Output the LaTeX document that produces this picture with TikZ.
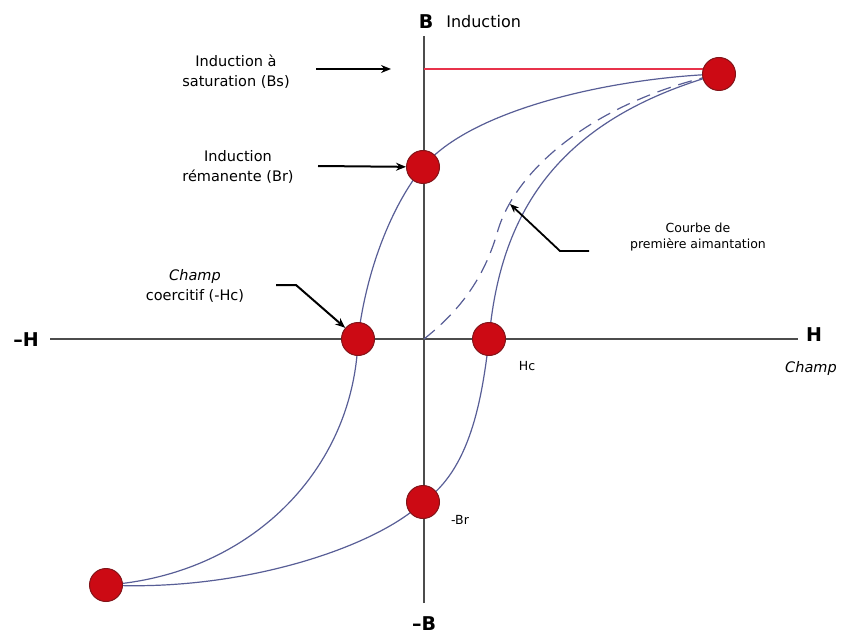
\documentclass[tikz,border=0pt]{standalone}
\usepackage{fontspec}
\setmainfont{DejaVu Sans}
\usetikzlibrary{arrows.meta,positioning,calc}
\definecolor{loopblue}{RGB}{88,94,150}
\definecolor{dotred}{RGB}{204,10,20}
\definecolor{dotrim}{RGB}{130,20,25}
\definecolor{satred}{RGB}{232,50,75}
\tikzset{
 axis/.style={draw=black!70,line width=1.3pt},
 loop/.style={draw=loopblue,line width=1.2pt},
 dot/.style={circle,fill=dotred,draw=dotrim,line width=1pt,minimum size=33pt,inner sep=0pt},
 lbl/.style={align=center,font=\fontsize{14.5}{20}\selectfont},
 small/.style={align=center,font=\fontsize{12.5}{16}\selectfont},
 axlbl/.style={font=\fontsize{19}{20}\selectfont\bfseries},
 arrow/.style={-{Stealth[length=10pt,width=8pt]},line width=2pt},
 lead/.style={-{Stealth[length=9pt,width=7pt]},line width=1.8pt}
}
\begin{document}
\begin{tikzpicture}[x=1pt,y=-1pt]
\useasboundingbox (0,0) rectangle (848,636);
% axes
\coordinate (o) at (424,339);
\coordinate (ytop) at (424,36);
\coordinate (ybot) at (424,603);
\coordinate (xl) at (50,339);
\coordinate (xr) at (798,339);
\draw[axis] (xl)--(xr);
\draw[axis] (ybot)--(ytop);
\node[axlbl] (bplus) at (426,22) {B};
\node[lbl,font=\fontsize{16}{17}\selectfont,right=6pt of bplus] {Induction};
\node[axlbl] (bminus) at (424,624) {--B};
\node[axlbl] (hminus) at (26,340) {--H};
\node[axlbl] (hplus) at (814,335) {H};
\node[lbl,font=\fontsize{14.5}{15}\selectfont\itshape] (champ) at (811,368) {Champ};
% points
\coordinate (sat) at (719,74);
\coordinate (br) at (423,167);
\coordinate (hcm) at (358,339);
\coordinate (hc) at (489,339);
\coordinate (brm) at (423,502);
\coordinate (satm) at (106,585);
\coordinate (bsax) at (424,69);
\coordinate (bsend) at (708,69);
\draw[satred,line width=1.2pt] (bsax)--(bsend);
% hysteresis loop
\draw[loop] (sat) .. controls (610,78) and (470,110) .. (br)
  .. controls (392,205) and (366,270) .. (hcm)
  .. controls (354,470) and (250,575) .. (satm);
\draw[loop] (satm) .. controls (240,592) and (375,548) .. (brm)
  .. controls (470,470) and (482,400) .. (hc)
  .. controls (500,215) and (555,120) .. (sat);
% first magnetisation
\draw[loop,dash pattern=on 14pt off 8pt] (o) .. controls (458,312) and (484,280) .. (498,230)
  .. controls (518,165) and (600,100) .. (sat);
\node[dot] (psat) at (sat) {};
\node[dot] (pbr) at (br) {};
\node[dot] (phcm) at (hcm) {};
\node[dot] (phc) at (hc) {};
\node[dot] (pbrm) at (brm) {};
\node[dot] (psatm) at (satm) {};
% labels
\node[lbl] (bs) at (236,72) {Induction à\\saturation (Bs)};
\node[lbl] (brl) at (238,167) {Induction\\rémanente (Br)};
\node[lbl] (hcl) at (195,286) {\itshape Champ\\coercitif (-Hc)};
\node[small] (hctxt) at (527,366) {Hc};
\node[small] (brmtxt) at (460,520) {-Br};
\node[small] (first) at (698,237) {Courbe de\\première aimantation};
\coordinate (bsfoot) at (316,69);
\coordinate (bstip) at (391,69);
\draw[arrow] (bsfoot)--(bstip);
\coordinate (brfoot) at (318,166);
\draw[arrow] (brfoot)--(pbr);
\coordinate (hcfoot) at (276,285);
\coordinate (hcbend) at (296,285);
\draw[arrow] (hcfoot)--(hcbend)--(phcm);
\coordinate (leadend) at (589,251);
\coordinate (leadbend) at (560,251);
\coordinate (leadtip) at (510,204);
\draw[lead] (leadend)--(leadbend)--(leadtip);
\end{tikzpicture}
\end{document}
